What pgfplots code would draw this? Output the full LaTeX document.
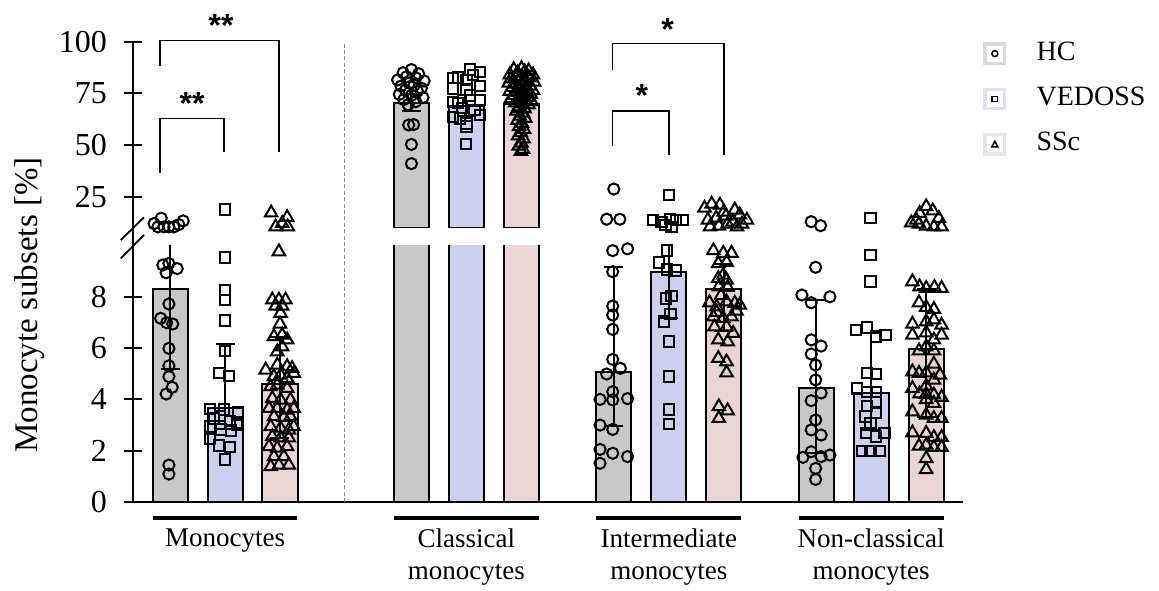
\documentclass[border=0pt]{standalone}
\usepackage{fontspec}
\setmainfont{Liberation Serif}
\newfontfamily\sansb{Liberation Sans}
\usepackage{pgfplots}
\pgfplotsset{compat=1.18}
\definecolor{hcc}{RGB}{200,200,200}
\definecolor{vec}{RGB}{205,208,236}
\definecolor{ssc}{RGB}{233,213,213}
\definecolor{hcl}{RGB}{218,218,218}
\definecolor{vel}{RGB}{222,224,245}
\definecolor{ssl}{RGB}{240,226,226}
\pgfplotsset{
  common/.style={scale only axis, width=415pt, xmin=-0.673, xmax=14.42, xtick=\empty,
    clip mode=individual,
    tick align=outside, major tick length=9pt,
    ytick style={line width=1pt, black}, /pgf/number format/assume math mode=true,
    yticklabel style={font=\fontsize{16}{16}\selectfont, xshift=-5pt}},
  nolinearrow/.style={axis line style={-, line width=1pt, black}, x axis line style={-}, y axis line style={-}},
  hcm/.style={only marks, mark=o, mark size=2.8pt, mark options={line width=1pt, black}},
  vem/.style={only marks, mark=square, mark size=2.6pt, mark options={line width=1pt, black}},
  ssm/.style={only marks, mark=triangle, mark size=3.6pt, mark options={line width=1pt, black}},
  barst/.style={ybar, bar width=17.5pt, bar shift=0pt, draw=black, line width=1pt, mark=none,
    error bars/y dir=both, error bars/y explicit, error bars/error bar style={line width=1pt, black},
    error bars/error mark options={rotate=90, mark size=4.75pt, line width=1pt, black}},
}
\begin{document}
\begin{tikzpicture}
\useasboundingbox (0,0) rectangle (579.5pt,295pt);
% ---------------- lower axis ----------------
\begin{axis}[common, at={(66.5pt,44pt)}, anchor=south west, height=128.25pt,
  ymin=0, ymax=10, ytick={0,2,4,6,8}, axis x line=bottom, axis y line=left, nolinearrow]
\addplot[barst, fill=hcc] coordinates {(0,8.29) += (0,2.8) -= (0,3.12) (4.39,70.5) +- (0,0) (8.07,5.08) += (0,4.07) -= (0,2.12) (11.75,4.43) += (0,3.45) -= (0,2.53)};
\addplot[barst, fill=vec] coordinates {(1,3.66) += (0,2.51) -= (0,0.81) (5.39,69) +- (0,0) (9.07,8.98) += (0,3.5) -= (0,1.82) (12.75,4.24) += (0,2.34) -= (0,1.44)};
\addplot[barst, fill=ssc] coordinates {(2,4.6) += (0,1.85) -= (0,2.1) (6.39,70) +- (0,0) (10.07,8.29) += (0,1.0) -= (0,1.61) (13.75,5.95) += (0,2.34) -= (0,2.65)};
\addplot[hcm] table {
x y
-0.13 9.24
-0.02 9.30
0.13 9.10
-0.07 8.94
-0.02 7.72
-0.17 7.16
-0.06 6.99
0.05 6.94
-0.02 5.99
-0.02 5.31
-0.02 4.89
0.04 4.47
-0.07 4.21
-0.02 1.44
-0.02 1.09
8.05 9.80
8.32 9.87
8.05 8.98
8.05 7.64
8.05 7.29
8.05 6.73
8.05 5.56
7.94 4.99
8.19 5.21
8.05 4.30
7.82 4.00
8.05 3.98
8.32 4.03
7.82 3.00
8.05 2.83
7.82 2.05
8.05 1.90
8.32 1.77
7.82 1.51
11.74 9.15
11.49 8.07
12.00 8.00
11.66 7.77
11.66 6.32
11.84 6.08
11.66 5.77
11.74 5.34
11.74 4.76
11.84 4.25
11.66 3.95
11.74 3.20
11.66 2.81
11.84 2.61
11.51 1.74
11.66 1.96
11.84 1.77
12.00 1.83
11.74 1.31
11.74 0.88
};
\addplot[vem] table {
x y
1.0 9.54
1.0 8.27
1.0 7.87
1.0 7.08
1.0 5.88
0.90 5.02
1.07 4.92
0.73 3.62
0.98 3.60
1.24 3.52
0.80 3.25
0.91 3.35
1.09 3.15
1.22 3.08
0.73 2.95
0.93 2.82
1.11 2.78
1.22 3.00
0.73 2.45
0.89 2.20
1.09 2.15
1.0 1.65
9.04 9.80
8.89 9.33
9.04 9.07
9.20 9.02
9.12 8.03
9.02 7.94
9.10 7.33
8.98 7.03
9.07 6.25
9.07 4.89
9.07 3.61
9.07 3.04
12.74 9.63
12.74 8.59
12.47 6.71
12.67 6.81
12.84 6.45
13.01 6.51
12.67 5.02
12.84 4.99
12.49 4.43
12.67 4.30
12.84 4.30
12.67 3.74
12.84 3.91
12.65 3.33
12.84 3.46
12.74 3.07
12.66 2.68
12.99 2.68
12.84 2.55
12.58 2.00
12.74 2.00
12.90 2.00
};
\addplot[ssm] table {
x y
1.98 9.76
1.86 7.88
1.98 7.88
2.10 7.88
1.92 7.64
2.04 7.64
2.01 7.36
2.00 6.94
1.89 6.45
2.04 6.51
2.13 6.32
2.04 6.05
1.95 5.86
1.74 5.15
1.95 5.34
2.13 5.28
2.22 5.21
2.25 5.02
1.89 4.89
2.01 4.95
2.13 4.82
1.83 4.50
1.95 4.56
2.13 4.43
1.86 4.04
2.01 3.98
2.19 3.98
1.80 3.65
1.95 3.65
2.13 3.59
2.25 3.65
1.89 3.33
2.07 3.30
2.19 3.33
1.83 2.94
2.01 2.88
2.16 2.81
2.25 2.94
1.86 2.55
2.01 2.50
2.16 2.50
1.80 2.16
1.95 2.10
2.13 2.16
1.89 1.77
2.07 1.77
1.83 1.38
1.98 1.44
2.16 1.44
9.88 9.80
10.06 9.70
10.21 9.70
9.97 9.30
10.12 9.35
10.06 8.85
9.97 8.72
10.12 8.65
9.98 8.39
10.14 8.37
9.81 7.77
9.94 7.61
10.12 7.81
10.27 7.75
10.36 7.68
9.88 7.22
10.06 7.16
10.21 7.22
9.90 6.83
10.12 6.83
10.24 6.58
9.97 6.32
10.14 6.25
9.97 5.60
10.12 5.47
10.12 5.04
9.98 3.72
10.14 3.56
9.98 3.26
9.94 7.40
10.30 7.45
10.02 8.05
13.50 8.59
13.63 8.39
13.75 8.33
13.90 8.37
14.03 8.33
13.62 7.77
13.75 7.59
13.89 7.51
13.50 6.94
13.75 7.03
13.89 7.10
14.03 6.90
13.50 6.51
13.75 6.60
14.03 6.51
13.89 6.32
13.75 6.05
13.62 5.90
13.89 5.90
13.89 5.38
13.50 5.08
13.62 5.02
13.75 5.04
14.00 4.95
13.50 4.43
13.75 4.52
13.89 4.76
13.63 4.22
13.75 4.20
13.89 4.18
14.03 4.08
13.75 4.00
13.89 3.85
13.50 3.52
13.75 3.39
13.89 3.26
14.03 3.26
13.50 2.70
13.75 2.68
13.89 2.52
14.03 2.52
13.62 2.18
13.75 2.22
13.89 2.13
14.03 2.13
13.75 1.70
13.75 1.27
};
% decorations
\draw[line width=1pt] (axis cs:-0.673,10) -- (axis cs:-0.673,10.69);
\draw[line width=0.9pt] (axis cs:-0.896,10.21) -- (axis cs:-0.473,11.1);
\draw[line width=0.9pt] (axis cs:-0.896,9.5) -- (axis cs:-0.473,10.41);
\draw[black!45, line width=0.5pt, dash pattern=on 2pt off 1.2pt] (axis cs:3.18,0) -- (axis cs:3.18,17.95);
\draw[line width=1.8pt] (axis cs:-0.318,-0.62) -- (axis cs:2.318,-0.62);
\draw[line width=1.8pt] (axis cs:4.07,-0.62) -- (axis cs:6.71,-0.62);
\draw[line width=1.8pt] (axis cs:7.75,-0.62) -- (axis cs:10.39,-0.62);
\draw[line width=1.8pt] (axis cs:11.43,-0.62) -- (axis cs:14.07,-0.62);
\begin{scope}[every node/.style={anchor=base, font=\fontsize{13.5}{13.5}\selectfont, inner sep=0pt}]
\node at (axis cs:1,-1.74) {Monocytes};
\node at (axis cs:5.39,-1.78) {Classical};
\node at (axis cs:5.39,-3.04) {monocytes};
\node at (axis cs:9.07,-1.78) {Intermediate};
\node at (axis cs:9.07,-3.04) {monocytes};
\node at (axis cs:12.75,-1.78) {Non-classical};
\node at (axis cs:12.75,-3.04) {monocytes};
\end{scope}
\end{axis}
% ---------------- upper axis ----------------
\begin{axis}[common, at={(66.5pt,181.15pt)}, anchor=south west, height=93pt,
  ymin=10, ymax=100, ytick={25,50,75,100}, axis x line=none, axis y line=left, nolinearrow,
  legend style={draw=none, fill=none, inner sep=0pt, at={(1.024,1.06)}, anchor=north west,
    row sep=0pt, legend cell align=left,
    nodes={font=\fontsize{14}{14}\selectfont, text height=10pt, text depth=3.5pt, inner sep=4.6pt}}]
\addlegendimage{legend image code/.code={\path[draw=none] (0pt,0pt) -- (22pt,0pt); \draw[hcl, line width=1.75pt, fill=white] (0.9pt,-4.85pt) rectangle (10.6pt,4.85pt); \draw[black, line width=0.75pt] (5.75pt,0pt) circle (1.5pt);}}
\addlegendentry{HC}
\addlegendimage{legend image code/.code={\path[draw=none] (0pt,0pt) -- (22pt,0pt); \draw[vel, line width=1.75pt, fill=white] (0.9pt,-4.85pt) rectangle (10.6pt,4.85pt); \draw[black, line width=0.75pt] (4.4pt,-1.35pt) rectangle (7.1pt,1.35pt);}}
\addlegendentry{VEDOSS}
\addlegendimage{legend image code/.code={\path[draw=none] (0pt,0pt) -- (22pt,0pt); \draw[ssl, line width=1.75pt, fill=white] (0.9pt,-4.85pt) rectangle (10.6pt,4.85pt); \draw[black, line width=0.75pt] (4.25pt,-1.2pt) -- (7.25pt,-1.2pt) -- (5.75pt,1.6pt) -- cycle;}}
\addlegendentry{SSc}
\addplot[barst, fill=hcc, forget plot] coordinates {(4.39,70.5) += (0,4) -= (0,4)};
\addplot[barst, fill=vec, forget plot] coordinates {(5.39,69) += (0,5) -= (0,5)};
\addplot[barst, fill=ssc, forget plot] coordinates {(6.39,70) += (0,4) -= (0,4)};
\addplot[hcm, forget plot] table {
x y
-0.16 14.6
-0.29 12.0
-0.22 10.4
-0.11 10.4
-0.02 10.4
0.07 10.4
0.16 11.5
0.24 13.3
4.39 86.5
4.24 85
4.52 84.5
4.30 83
4.47 82.5
4.14 81.5
4.62 81
4.35 80
4.44 79
4.20 78.5
4.57 77.5
4.28 76.5
4.50 76
4.17 74.5
4.39 74
4.60 73
4.25 72
4.47 71
4.33 69.5
4.34 59.7
4.43 59.9
4.39 50.3
4.39 41.0
8.07 28.7
7.94 14.1
8.18 14.1
11.66 12.9
11.83 11.0
};
\addplot[vem, forget plot] table {
x y
1.0 18.9
5.15 82.3
5.24 82.7
5.39 81.4
5.51 83.8
5.64 85.4
5.15 77.4
5.39 76.9
5.64 78.5
5.15 70.9
5.24 70.2
5.64 71.8
5.15 63.7
5.27 62.9
5.39 60.5
5.64 64.5
5.39 58.9
5.38 50.5
5.45 74.0
5.31 67.9
5.54 66.9
5.45 86.6
9.07 25.8
8.78 13.7
8.94 12.9
9.09 14.1
9.20 13.7
9.33 13.7
9.01 11.3
9.12 10.4
12.74 14.6
};
\addplot[ssm, forget plot] table {
x y
1.84 17.2
2.13 15.0
2.04 12.1
1.92 10.4
2.14 10.5
6.39 87
6.25 86.5
6.52 86
6.32 85
6.45 85.5
6.18 84
6.60 84
6.28 83
6.40 83
6.53 82.5
6.20 82
6.34 81.5
6.47 81
6.62 80.5
6.16 80
6.28 79.5
6.41 79
6.55 78.5
6.22 78
6.35 77.5
6.48 77
6.60 76.5
6.18 76
6.30 75.5
6.43 75
6.56 74.5
6.25 74
6.38 73.5
6.50 73
6.20 72.5
6.33 72
6.46 71.5
6.58 71
6.28 70.5
6.41 70
6.52 69.5
6.34 68.5
6.45 67.5
6.30 66.5
6.42 65.5
6.36 64
6.46 63
6.32 62
6.40 60.5
6.35 59
6.44 57.5
6.38 56
6.33 54.5
6.43 53
6.39 51
6.34 49.5
6.42 48
6.38 47
9.72 19.5
9.85 21.5
10.00 21.0
10.27 18.6
10.36 16.2
9.78 13.7
9.93 14.7
10.11 15.7
10.23 12.8
10.40 11.8
9.82 10.4
9.98 10.8
10.14 11.8
10.31 10.4
10.07 17.6
10.49 13.7
13.75 20.2
13.87 18.2
13.63 17.0
13.98 14.6
13.48 12.4
13.62 11.8
13.75 10.8
13.89 10.4
14.03 10.4
13.57 13.7
};
% significance brackets
\draw[line width=0.75pt] (axis cs:-0.18,88.3) |- (axis cs:1.98,100.6) -- (axis cs:1.98,46.8);
\draw[line width=0.75pt] (axis cs:-0.18,36.5) |- (axis cs:0.98,62.9) -- (axis cs:0.98,46.8);
\draw[line width=0.75pt] (axis cs:8.05,86.3) |- (axis cs:10.07,99.2) -- (axis cs:10.07,45.2);
\draw[line width=0.75pt] (axis cs:8.05,49.5) |- (axis cs:9.07,66.4) -- (axis cs:9.07,45.2);
\begin{scope}[every node/.style={inner sep=0pt, font=\sansb\bfseries\fontsize{16}{16}\selectfont}]
\node at (axis cs:0.93,107.8) {**};
\node at (axis cs:0.40,70.1) {**};
\node at (axis cs:9.05,105.9) {*};
\node at (axis cs:8.58,73.9) {*};
\end{scope}
\end{axis}
\node[rotate=90, font=\fontsize{16.5}{16.5}\selectfont] at (15pt,142.5pt) {Monocyte subsets [\%]};
\end{tikzpicture}
\end{document}
